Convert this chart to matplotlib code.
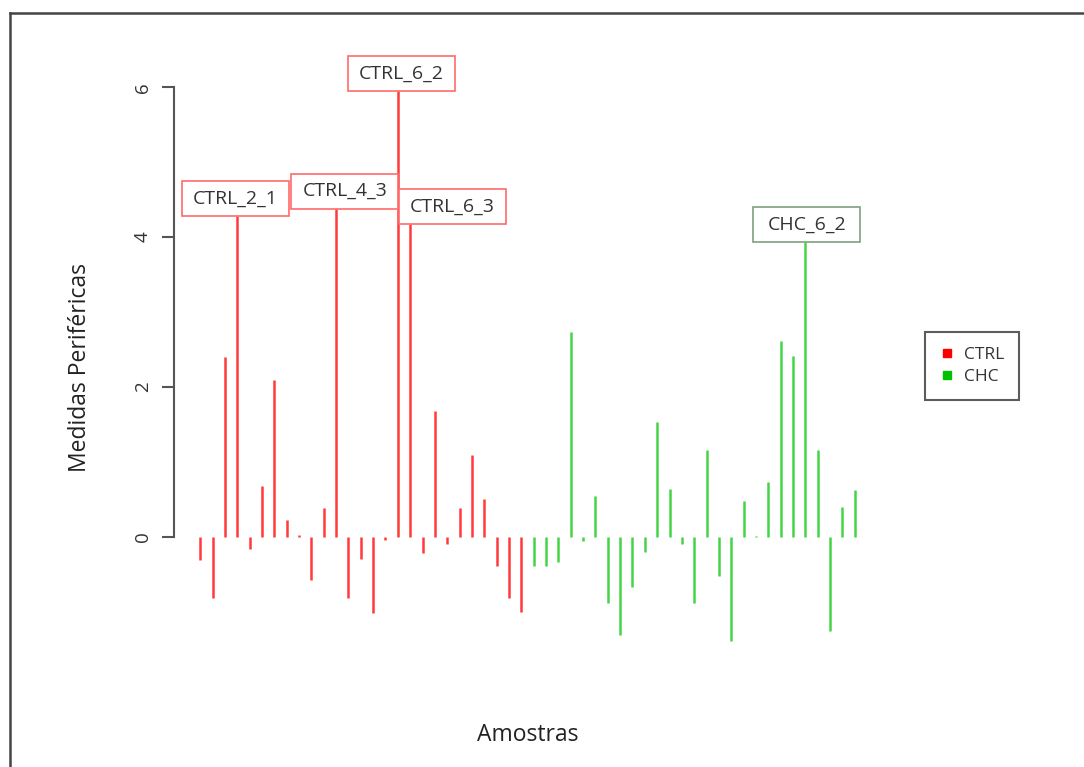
import numpy as np
import matplotlib.pyplot as plt
from matplotlib.lines import Line2D
from matplotlib.patches import Rectangle

plt.rcParams['font.family'] = ['Open Sans', 'DejaVu Sans']

# Peripheral measures per sample
ctrl_values = [-0.31, -0.82, 2.40, 4.28, -0.16, 0.68, 2.09, 0.22, 0.02, -0.58,
               0.39, 4.38, -0.82, -0.30, -1.02, -0.04, 5.95, 4.17, -0.21, 1.68,
               -0.09, 0.39, 1.09, 0.51, -0.39, -0.82, -1.00]
chc_values = [-0.39, -0.39, -0.33, 2.74, -0.06, 0.54, -0.88, -1.31, -0.67, -0.20,
              1.53, 0.64, -0.10, -0.88, 1.16, -0.52, -1.39, 0.48, 0.01, 0.73,
              2.61, 2.41, 3.93, 1.16, -1.26, 0.40, 0.62]
groups = ['CTRL', 'CHC']

# labelled samples: (sample index, 1-based), name, horizontal shift of the box
label_index = [4, 12, 17, 18, 50]
label_names = ['CTRL_2_1', 'CTRL_4_3', 'CTRL_6_2', 'CTRL_6_3', 'CHC_6_2']
label_shift = [-0.15, 0.7, 0.3, 3.4, 0.1]

RED = '#ff3a3a'
GREEN = '#45d445'
colors = {'CTRL': RED, 'CHC': GREEN}

values = np.array(ctrl_values + chc_values)
group = ['CTRL'] * len(ctrl_values) + ['CHC'] * len(chc_values)
x = np.arange(1, len(values) + 1)

fig = plt.figure(figsize=(10.84, 7.67), dpi=100)
ax = fig.add_axes([174 / 1084, 1 - 663 / 767, 707 / 1084, 594 / 767])

ax.vlines(x, 0, values, colors=[colors[g] for g in group], linewidth=1.8, zorder=2)

# R-like 4% axis padding
xr = x.max() - x.min()
yr = values.max() - values.min()
ax.set_xlim(x.min() - 0.04 * xr, x.max() + 0.04 * xr)
ax.set_ylim(values.min() - 0.04 * yr, values.max() + 0.04 * yr)

# boxed labels sitting on top of the selected bars
box_w = 8.66
box_h = 0.467
for idx, name, dx in zip(label_index, label_names, label_shift):
    v = values[idx - 1]
    cx = x[idx - 1] + dx
    edge = '#ff6b6b' if name.startswith('CTRL') else '#7fa07f'
    ax.add_patch(Rectangle((cx - box_w / 2, v), box_w, box_h, facecolor='white',
                           edgecolor=edge, linewidth=1.2, zorder=3, clip_on=False))
    ax.text(cx, v + box_h / 2, name, ha='center', va='center', fontsize=14,
            color='#333333', zorder=4, clip_on=False)

# axis styling
for s in ['top', 'right', 'bottom']:
    ax.spines[s].set_visible(False)
ax.spines['left'].set_bounds(0, 6)
ax.spines['left'].set_color('#555555')
ax.spines['left'].set_linewidth(1.5)
ax.set_xticks([])
ax.set_yticks([0, 2, 4, 6])
ax.tick_params(axis='y', length=9, width=1.5, color='#555555', pad=7,
               labelsize=13.5, labelcolor='#333333')
for lab in ax.get_yticklabels():
    lab.set_rotation(90)
    lab.set_va('center')

fig.text(80 / 1084, 1 - 368 / 767, 'Medidas Periféricas', rotation=90,
         ha='center', va='center', fontsize=16.5, color='#222222')
fig.text(528 / 1084, 1 - 735 / 767, 'Amostras', ha='center', va='center',
         fontsize=16.5, color='#222222')

# legend
handles = [Line2D([], [], linestyle='none', marker='s', markersize=6,
                  color=c) for c in ['#ff0000', '#00c000']]
leg = fig.legend(handles, groups, loc='upper left',
                 bbox_to_anchor=(925 / 1084, 1 - 332 / 767), borderaxespad=0,
                 fancybox=False, fontsize=12.5, handlelength=0.8,
                 handletextpad=0.6, borderpad=0.85, labelspacing=0.35)
leg.get_frame().set_edgecolor('#333333')
leg.get_frame().set_linewidth(1.5)
for t in leg.get_texts():
    t.set_color('#333333')

# page frame (only top and left edges are in view)
fig.add_artist(Line2D([10 / 1084, 10 / 1084], [0, 1 - 12.5 / 767],
                      transform=fig.transFigure, color='#444444', linewidth=1.8))
fig.add_artist(Line2D([10 / 1084, 1], [1 - 12.5 / 767, 1 - 12.5 / 767],
                      transform=fig.transFigure, color='#444444', linewidth=1.8))

fig.savefig('out.png', dpi=100)
